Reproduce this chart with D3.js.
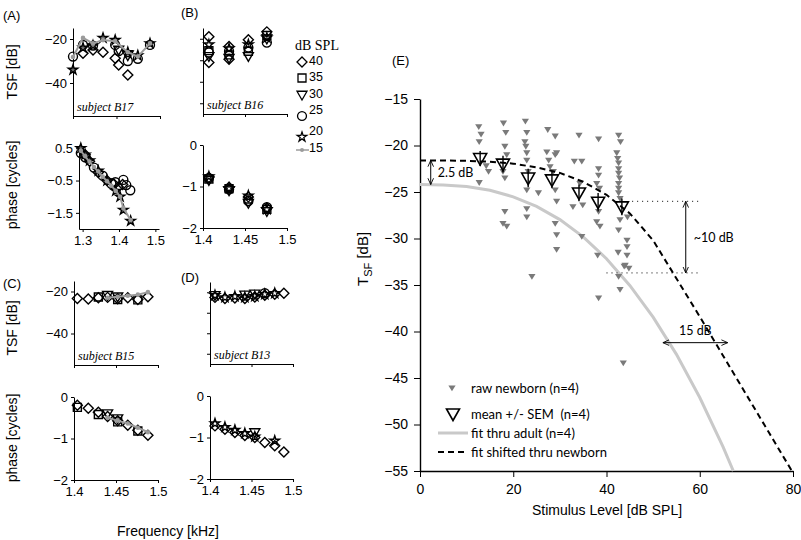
<!DOCTYPE html>
<html>
<head>
<meta charset="utf-8">
<script src="https://cdn.jsdelivr.net/npm/d3@7"></script>
<style>
  body { margin: 0; background: #fff; }
  svg { display: block; }
</style>
</head>
<body>
<div id="chart"></div>
<script>
// ---------- data: left panels (frequency sweeps, one row per level in `levels`)
const levels = [40, 35, 30, 25, 20, 15];

const tsfB17 = [
  [[1.323,-26.5],[1.346,-25.0],[1.369,-26.0],[1.397,-28.7],[1.405,-31.8],[1.426,-36.4]],
  [],
  [[1.405,-25.0],[1.426,-27.5]],
  [[1.300,-28.0],[1.323,-22.7],[1.346,-23.0],[1.397,-22.7],[1.405,-25.5],[1.426,-30.0],[1.449,-29.0],[1.477,-22.7]],
  [[1.300,-34.0],[1.323,-24.0],[1.346,-23.0],[1.369,-19.5],[1.397,-20.5],[1.426,-26.0],[1.449,-27.5],[1.477,-22.0]],
  [[1.300,-28.2],[1.323,-19.5],[1.346,-22.0],[1.369,-20.5],[1.397,-21.0],[1.426,-26.0],[1.449,-28.0],[1.477,-22.0]]
];
const phaseB17 = [
  [[1.307,0.30],[1.319,0.10],[1.343,-0.25],[1.367,-0.50],[1.385,-0.60],[1.398,-0.70],[1.410,-0.62]],
  [],
  [],
  [[1.295,0.35],[1.307,0.22],[1.331,-0.10],[1.355,-0.35],[1.379,-0.60],[1.390,-0.55],[1.412,-0.48],[1.420,-0.64],[1.431,-0.80]],
  [[1.295,0.50],[1.307,0.30],[1.319,0.12],[1.343,-0.20],[1.367,-0.50],[1.391,-0.82],[1.403,-1.00],[1.412,-1.41],[1.432,-1.75]],
  [[1.295,0.42],[1.307,0.25],[1.319,0.08],[1.331,-0.08],[1.343,-0.22],[1.355,-0.38],[1.367,-0.52],[1.379,-0.66],[1.391,-0.82],[1.403,-1.00],[1.412,-1.35],[1.432,-1.72]]
];

const tsfB16 = [
  [[1.407,-19.1],[1.407,-31.0],[1.431,-23.6],[1.431,-29.5],[1.454,-20.5],[1.476,-16.8]],
  [[1.407,-25.5],[1.431,-27.5],[1.454,-25.8],[1.476,-18.5]],
  [[1.407,-28.2],[1.431,-29.0],[1.454,-28.2],[1.476,-20.0]],
  [[1.407,-26.4],[1.431,-25.8],[1.454,-24.1],[1.476,-21.8]],
  [[1.407,-22.7],[1.431,-24.5],[1.454,-22.7],[1.476,-19.5]],
  []
];
const phaseB16 = [
  [[1.407,-0.78],[1.431,-1.02],[1.454,-1.25],[1.476,-1.52]],
  [[1.407,-0.82],[1.431,-1.05],[1.454,-1.30],[1.476,-1.55]],
  [[1.407,-0.85],[1.431,-1.10],[1.454,-1.40],[1.476,-1.60]],
  [[1.407,-0.80],[1.431,-1.07],[1.454,-1.35],[1.476,-1.50]],
  [[1.407,-0.76],[1.431,-1.04],[1.454,-1.22],[1.476,-1.55]],
  []
];

const tsfB15 = [
  [[1.404,-23.3],[1.417,-23.6],[1.429,-23.0],[1.440,-22.8],[1.452,-23.5],[1.464,-23.0],[1.476,-23.8],[1.488,-22.5]],
  [[1.429,-22.6],[1.452,-23.8],[1.476,-24.0]],
  [[1.440,-21.8],[1.452,-22.5]],
  [],
  [],
  [[1.440,-23.0],[1.452,-22.5],[1.464,-22.0],[1.476,-21.5],[1.488,-20.3]]
];
const phaseB15 = [
  [[1.404,-0.20],[1.417,-0.27],[1.429,-0.37],[1.440,-0.47],[1.452,-0.57],[1.464,-0.68],[1.476,-0.80],[1.488,-0.92]],
  [[1.404,-0.25],[1.429,-0.42],[1.452,-0.60],[1.476,-0.82]],
  [[1.440,-0.40],[1.452,-0.52]],
  [],
  [],
  [[1.440,-0.50],[1.452,-0.57],[1.464,-0.64],[1.476,-0.74],[1.488,-0.85]]
];

const tsfB13 = [
  [[1.406,-22.5],[1.418,-23.0],[1.430,-22.8],[1.442,-23.0],[1.454,-22.3],[1.466,-21.5],[1.478,-21.0],[1.489,-20.5]],
  [],
  [[1.406,-21.5],[1.442,-21.3],[1.454,-20.8]],
  [[1.466,-20.5]],
  [[1.406,-21.5],[1.418,-22.5],[1.430,-22.0],[1.442,-22.5],[1.454,-22.0],[1.466,-21.0],[1.478,-20.5]],
  []
];
const phaseB13 = [
  [[1.406,-0.72],[1.418,-0.80],[1.430,-0.88],[1.442,-0.95],[1.454,-1.00],[1.466,-1.12],[1.478,-1.20],[1.489,-1.35]],
  [],
  [[1.454,-0.88]],
  [],
  [[1.406,-0.66],[1.418,-0.75],[1.430,-0.82],[1.442,-0.90],[1.454,-0.98],[1.478,-1.08]],
  []
];

// ---------- data: panel E (T_SF vs stimulus level)
const adultLevel = [0, 5, 10, 15, 20, 25, 30, 35, 40, 45, 50, 55, 60, 65, 67.2];
const adultFit   = [-24.2, -24.24, -24.42, -24.82, -25.52, -26.55, -27.97, -29.83, -32.17, -35.05, -38.45, -42.46, -47.1, -52.4, -55.0];

const shiftLevel = [0, 5, 10, 15, 20, 25, 30, 35, 40, 45, 50, 55, 60, 65, 70, 75, 80];
const shiftFit   = [-21.6, -21.6, -21.65, -21.75, -21.95, -22.35, -22.95, -23.9, -25.3, -27.3, -30.2, -34.3, -38.4, -42.6, -46.8, -51.0, -55.2];

const meanLevel = [12.9, 17.8, 23.2, 28.3, 34.1, 38.2, 43.3];
const meanTsf   = [-21.4, -22.0, -23.5, -23.7, -25.1, -26.1, -26.6];
const meanSem   = [0.8, 0.9, 1.0, 0.9, 0.9, 1.0, 0.9];

const rawLevel = [
  12.6, 13.1, 12.7, 12.7, 14.2, 14.7,
  17.9, 18.4, 18.2, 18.6, 17.8, 18.2, 18.2, 17.8, 18.6,
  22.6, 22.9, 22.5, 22.7, 22.9, 22.9, 23.2, 22.9, 22.9, 22.9, 24.0,
  25.4, 27.4, 27.2, 27.6, 27.9, 29.0, 29.3, 28.6, 29.0, 29.3, 29.0, 29.3, 29.3, 29.0,
  32.8, 33.1, 34.1, 34.7, 34.3, 34.9, 34.7,
  38.3, 38.3, 38.3, 37.9, 38.5, 38.3, 37.9, 38.6, 38.1, 38.3,
  42.6, 43.0, 42.2, 42.4, 42.6, 42.6, 42.6, 42.8, 42.6, 42.6, 42.6, 42.9, 42.9, 42.6,
  44.5, 44.4, 44.4, 44.4, 43.8, 42.6, 42.9, 43.6, 44.0, 44.8, 42.5
];
const rawTsf = [
  -18.0, -18.8, -19.6, -24.0, -22.2, -22.8,
  -17.6, -18.6, -20.1, -21.0, -22.8, -23.5, -27.1, -28.4, -28.7,
  -17.4, -18.6, -19.6, -20.1, -20.8, -21.6, -22.8, -24.8, -26.8, -27.7, -34.1,
  -25.1, -18.3, -20.7, -21.6, -22.3, -21.0, -20.8, -22.8, -24.8, -26.0, -28.4, -29.6, -31.2, -19.0,
  -26.6, -21.7, -18.9, -21.7, -24.1, -26.4, -29.8,
  -19.3, -22.5, -23.2, -24.1, -24.6, -27.1, -28.2, -28.7, -31.8, -36.4,
  -18.9, -19.6, -20.8, -21.4, -21.9, -22.5, -23.0, -23.5, -24.1, -24.6, -25.1, -25.7, -28.0, -29.1,
  -27.7, -30.2, -30.9, -31.8, -33.0, -34.1, -35.5, -43.4, -32.9, -33.2, -31.5
];

// annotations in data units
const offsetArrow = { level: 2.3, from: -21.6, to: -24.2 };
const dropArrow   = { level: 57, from: -26.0, to: -33.7, topFrom: 45.5, botFrom: 40, end: 60 };
const shiftArrow  = { tsf: -41.2, from: 52.1, to: 66 };

// ---------- drawing
const FONT = "'Liberation Sans', Arial, sans-serif";
const LFONT = "Lato, 'Open Sans', sans-serif";
const SERIF = "'Liberation Serif', 'DejaVu Serif', serif";

const svg = d3.select("#chart").append("svg")
  .attr("width", 801)
  .attr("height", 540)
  .style("font-family", FONT);

svg.append("defs").append("marker")
  .attr("id", "ah")
  .attr("viewBox", "0 0 10 10")
  .attr("refX", 9).attr("refY", 5)
  .attr("markerWidth", 7).attr("markerHeight", 7)
  .attr("markerUnits", "userSpaceOnUse")
  .attr("orient", "auto-start-reverse")
  .append("path")
  .attr("d", "M0,1L9,5L0,9")
  .attr("fill", "none")
  .attr("stroke", "#000")
  .attr("stroke-width", 1.3);

// marker shapes per level row
const shapes = [
  r => `M0,${-r}L${r},0L0,${r}L${-r},0Z`,
  r => `M${-r * 0.8},${-r * 0.8}h${1.6 * r}v${1.6 * r}h${-1.6 * r}Z`,
  r => `M${-r},${-r * 0.75}L${r},${-r * 0.75}L0,${r}Z`,
  r => d3.symbol(d3.symbolCircle, Math.PI * r * r * 0.8)(),
  r => d3.symbol(d3.symbolStar, (r * r) / 0.8908)(),
  null
];

function styleAxis(g, size) {
  g.selectAll("text").style("font-size", size + "px").style("font-family", FONT).attr("fill", "#000");
  g.selectAll("line,path").attr("stroke", "#000");
}

function panel(o) {
  const x = d3.scaleLinear().domain(o.xDomain).range(o.xRange);
  const y = d3.scaleLinear().domain(o.yDomain).range(o.yRange);
  const g = svg.append("g");

  const ax = g.append("g")
    .attr("transform", `translate(0,${o.yRange[0]})`)
    .call(d3.axisBottom(x).tickValues(o.xTicks).tickSize(3).tickSizeOuter(0).tickPadding(4)
      .tickFormat(o.xLabels ? d3.format("") : () => ""));
  styleAxis(ax, 13);

  const ay = g.append("g")
    .attr("transform", `translate(${o.xRange[0]},0)`)
    .call(d3.axisLeft(y).tickValues(o.yTicks).tickSize(3).tickSizeOuter(0).tickPadding(3)
      .tickFormat(o.yLabels ? d3.format("") : () => ""));
  styleAxis(ay, 13);

  o.rows.forEach((pts, i) => {
    if (!pts.length || levels[i] === 15) return;
    g.selectAll(null).data(pts).join("path")
      .attr("transform", d => `translate(${x(d[0])},${y(d[1])})`)
      .attr("d", shapes[i](5))
      .attr("fill", i === 4 ? o.starFill : "none")
      .attr("stroke", "#000")
      .attr("stroke-width", 1.4);
  });
  const grey = o.rows[5];
  if (grey.length) {
    g.append("path").datum(grey)
      .attr("d", d3.line().x(d => x(d[0])).y(d => y(d[1])))
      .attr("fill", "none").attr("stroke", "#9b9b9b").attr("stroke-width", 2);
    g.selectAll(null).data(grey).join("circle")
      .attr("cx", d => x(d[0])).attr("cy", d => y(d[1]))
      .attr("r", 2.3).attr("fill", "#9b9b9b");
  }

  if (o.subject) {
    g.append("text")
      .attr("x", o.xRange[0] + 4).attr("y", o.yRange[0] - 5)
      .style("font-family", SERIF).style("font-style", "italic").style("font-size", "12px")
      .text(o.subject);
  }
}

const tsfY = [-55, -15];
const phY = [-2, 0];

// (A)
panel({ xDomain: [1.3, 1.5], xRange: [73, 160], yDomain: tsfY, yRange: [116, 28],
  xTicks: [1.3, 1.4, 1.5], yTicks: [-20, -40], yLabels: true, rows: tsfB17, starFill: "#6e6e6e", subject: "subject B17" });
panel({ xDomain: [1.29, 1.51], xRange: [79, 159], yDomain: [-2, 0.6], yRange: [229, 145],
  xTicks: [1.3, 1.4, 1.5], xLabels: true, yTicks: [0.5, -0.5, -1.5], yLabels: true, rows: phaseB17, starFill: "#6e6e6e" });
// (B)
panel({ xDomain: [1.4, 1.5], xRange: [203, 287], yDomain: tsfY, yRange: [114, 28],
  xTicks: [1.4, 1.45, 1.5], yTicks: [-20, -30, -40, -50], rows: tsfB16, starFill: "none", subject: "subject B16" });
panel({ xDomain: [1.4, 1.5], xRange: [203, 287], yDomain: phY, yRange: [228, 145],
  xTicks: [1.4, 1.45, 1.5], xLabels: true, yTicks: [0, -1, -2], yLabels: true, rows: phaseB16, starFill: "none" });
// (C)
panel({ xDomain: [1.4, 1.5], xRange: [74, 158], yDomain: tsfY, yRange: [365, 281],
  xTicks: [1.4, 1.45, 1.5], yTicks: [-20, -40], yLabels: true, rows: tsfB15, starFill: "none", subject: "subject B15" });
panel({ xDomain: [1.4, 1.5], xRange: [74, 158], yDomain: phY, yRange: [480, 397],
  xTicks: [1.4, 1.45, 1.5], xLabels: true, yTicks: [0, -1, -2], yLabels: true, rows: phaseB15, starFill: "none" });
// (D)
panel({ xDomain: [1.4, 1.5], xRange: [210, 293], yDomain: tsfY, yRange: [364, 282],
  xTicks: [1.4, 1.45, 1.5], yTicks: [-20, -30, -40, -50], rows: tsfB13, starFill: "none", subject: "subject B13" });
panel({ xDomain: [1.4, 1.5], xRange: [210, 293], yDomain: phY, yRange: [479, 396],
  xTicks: [1.4, 1.45, 1.5], xLabels: true, yTicks: [0, -1, -2], yLabels: true, rows: phaseB13, starFill: "none" });

// panel letters and left titles
[["(A)", 3, 20], ["(B)", 181, 17], ["(C)", 3, 288], ["(D)", 181, 282], ["(E)", 392, 65]].forEach(([t, px, py]) => {
  svg.append("text").attr("x", px).attr("y", py).style("font-size", "13px").text(t);
});
[["TSF [dB]", 72], ["phase [cycles]", 185], ["TSF [dB]", 328], ["phase [cycles]", 438]].forEach(([t, cy]) => {
  svg.append("text").attr("transform", `translate(17,${cy}) rotate(-90)`)
    .attr("text-anchor", "middle").style("font-size", "14px").text(t);
});
svg.append("text").attr("x", 168).attr("y", 536).attr("text-anchor", "middle")
  .style("font-size", "14px").text("Frequency [kHz]");

// dB SPL legend
svg.append("text").attr("x", 295).attr("y", 50)
  .style("font-family", SERIF).style("font-size", "14px").text("dB SPL");
const legSymY = [62, 78, 95, 116, 137, 150];
const legTxtY = [61, 77, 93.5, 110, 131, 148];
levels.forEach((lv, i) => {
  if (shapes[i]) {
    svg.append("path").attr("transform", `translate(302,${legSymY[i]})`)
      .attr("d", shapes[i](5)).attr("fill", "none").attr("stroke", "#000").attr("stroke-width", 1.3);
  } else {
    svg.append("line").attr("x1", 296).attr("x2", 309).attr("y1", legSymY[i]).attr("y2", legSymY[i])
      .attr("stroke", "#9b9b9b").attr("stroke-width", 1.5);
    svg.append("circle").attr("cx", 302).attr("cy", legSymY[i]).attr("r", 2).attr("fill", "#9b9b9b");
  }
  svg.append("text").attr("x", 309).attr("y", legTxtY[i]).attr("dy", "0.35em")
    .style("font-size", "12.5px").text(lv);
});

// ---------- panel E
const xE = d3.scaleLinear().domain([0, 80]).range([420, 793]);
const yE = d3.scaleLinear().domain([-55, -15]).range([471, 99]);
const gE = svg.append("g");

const axE = gE.append("g").attr("transform", `translate(0,${yE(-55)})`)
  .call(d3.axisBottom(xE).tickValues([0, 20, 40, 60, 80]).tickSize(6).tickSizeOuter(0).tickPadding(7));
styleAxis(axE, 14);
const ayE = gE.append("g").attr("transform", `translate(${xE(0)},0)`)
  .call(d3.axisLeft(yE).tickValues(d3.range(-15, -56, -5)).tickSize(6).tickSizeOuter(0).tickPadding(6));
styleAxis(ayE, 14);
gE.selectAll(".domain").attr("stroke-width", 1.4);

gE.append("text").attr("x", 607).attr("y", 515).attr("text-anchor", "middle")
  .style("font-size", "14px").text("Stimulus Level [dB SPL]");
const yt = gE.append("text").attr("transform", "translate(368,286) rotate(-90)").style("font-size", "15px");
yt.append("tspan").text("T");
yt.append("tspan").attr("dy", 4).style("font-size", "11px").text("SF");
yt.append("tspan").attr("dy", -4).text(" [dB]");

const lineE = d3.line().x(d => xE(d[0])).y(d => yE(d[1]));

gE.append("path").datum(adultLevel.map((v, i) => [v, adultFit[i]]))
  .attr("d", lineE).attr("fill", "none").attr("stroke", "#c9c9c9").attr("stroke-width", 3);

const rawTri = "M-3.6,-2.6L3.6,-2.6L0,3.2Z";
gE.selectAll(null).data(rawLevel.map((v, i) => [v, rawTsf[i]])).join("path")
  .attr("transform", d => `translate(${xE(d[0])},${yE(d[1])})`)
  .attr("d", rawTri).attr("fill", "#7a7a7a");

gE.append("path").datum(shiftLevel.map((v, i) => [v, shiftFit[i]]))
  .attr("d", lineE).attr("fill", "none").attr("stroke", "#000")
  .attr("stroke-width", 2).attr("stroke-dasharray", "6,4");

const bigTri = "M-6.5,-5L6.5,-5L0,6.5Z";
meanLevel.forEach((lv, i) => {
  gE.append("line").attr("x1", xE(lv)).attr("x2", xE(lv))
    .attr("y1", yE(meanTsf[i] + meanSem[i])).attr("y2", yE(meanTsf[i] - meanSem[i]))
    .attr("stroke", "#000").attr("stroke-width", 1.4);
  gE.append("path").attr("transform", `translate(${xE(lv)},${yE(meanTsf[i])})`)
    .attr("d", bigTri).attr("fill", "none").attr("stroke", "#000").attr("stroke-width", 1.6);
});

// annotations
function arrow(x1, y1, x2, y2) {
  gE.append("line").attr("x1", x1).attr("y1", y1).attr("x2", x2).attr("y2", y2)
    .attr("stroke", "#000").attr("stroke-width", 1)
    .attr("marker-start", "url(#ah)").attr("marker-end", "url(#ah)");
}
function dotted(x1, x2, yy) {
  gE.append("line").attr("x1", x1).attr("x2", x2).attr("y1", yy).attr("y2", yy)
    .attr("stroke", "#000").attr("stroke-width", 1).attr("stroke-dasharray", "1,4");
}
arrow(xE(offsetArrow.level), yE(offsetArrow.from), xE(offsetArrow.level), yE(offsetArrow.to));
gE.append("text").attr("x", xE(offsetArrow.level) + 7).attr("y", yE(-22.9)).attr("dy", "0.35em")
  .style("font-family", LFONT).style("font-size", "12.5px").text("2.5 dB");

dotted(xE(dropArrow.topFrom), xE(dropArrow.end), yE(dropArrow.from));
dotted(xE(dropArrow.botFrom), xE(dropArrow.end), yE(dropArrow.to));
arrow(xE(dropArrow.level), yE(dropArrow.from), xE(dropArrow.level), yE(dropArrow.to));
gE.append("text").attr("x", xE(dropArrow.level) + 8).attr("y", yE(-29.9)).attr("dy", "0.35em")
  .style("font-family", LFONT).style("font-size", "12.5px").text("~10 dB");

arrow(xE(shiftArrow.from), yE(shiftArrow.tsf), xE(shiftArrow.to), yE(shiftArrow.tsf));
gE.append("text").attr("x", (xE(shiftArrow.from) + xE(shiftArrow.to)) / 2).attr("y", yE(shiftArrow.tsf) - 8)
  .attr("text-anchor", "middle")
  .style("font-family", LFONT).style("font-size", "12.5px").text("15 dB");

// legend E
const lg = gE.append("g").style("font-family", LFONT).style("font-size", "13px");
const legY = [388, 414, 433, 452];
lg.append("path").attr("transform", `translate(452,${legY[0]})`).attr("d", rawTri).attr("fill", "#7a7a7a");
lg.append("path").attr("transform", `translate(453,${legY[1]})`).attr("d", bigTri)
  .attr("fill", "none").attr("stroke", "#000").attr("stroke-width", 1.6);
lg.append("line").attr("x1", 438).attr("x2", 468).attr("y1", legY[2]).attr("y2", legY[2])
  .attr("stroke", "#c9c9c9").attr("stroke-width", 3);
lg.append("line").attr("x1", 438).attr("x2", 468).attr("y1", legY[3]).attr("y2", legY[3])
  .attr("stroke", "#000").attr("stroke-width", 2).attr("stroke-dasharray", "6,4");
["raw newborn (n=4)", "mean +/- SEM  (n=4)", "fit thru adult (n=4)", "fit shifted thru newborn"].forEach((t, i) => {
  lg.append("text").attr("x", 471).attr("y", legY[i]).attr("dy", "0.35em")
    .style("white-space", "pre").text(t);
});
</script>
</body>
</html>
